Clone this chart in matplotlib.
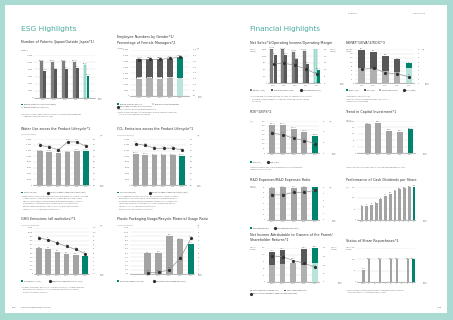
import matplotlib.pyplot as plt
import numpy as np
from matplotlib.patches import Rectangle
from matplotlib.lines import Line2D
from matplotlib.ticker import FuncFormatter

yrs5 = ['2018', '2019', '2020', '2021', '2022']
yrs6 = ['2017', '2018', '2019', '2020', '2021', '2022']

patents_outside = [10200, 10000, 10200, 10000, 9300]
patents_japan = [7600, 8000, 8200, 8500, 6100]

emp_female = [15700, 15900, 15800, 15900, 15200]
emp_male = [16400, 16600, 16500, 16700, 18800]
female_mgr = [31.2, 31.8, 31.8, 32.7, 33.6]

water_use = [11740, 11620, 11090, 11380, 11810, 11920]
water_ratio = [1.38, 1.32, 1.22, 1.50, 1.50, 1.34]

co2_emis = [10800, 10550, 10300, 10290, 10310, 10100]
co2_ratio = [1.43, 1.38, 1.28, 1.28, 1.28, 1.22]

ghg_emis = [613, 605, 534, 487, 464, 440]
ghg_ratio = [86, 82, 74, 66, 59, 49]

plastic_use = [49.5, 51.0, 91.0, 83.0, 71.5]
recycle_ratio = [0.6, 0.8, 2.0, 7.5, 17.0]

net_sales = [1508.0, 1502.2, 1381.9, 1418.8, 1551.1]
op_income = [207.7, 211.7, 175.6, 143.6, 101.1]
op_margin = [13.8, 14.1, 12.7, 10.1, 6.5]

capital_cost = [70, 66, 60, 55, 70]
eva = [87, 83, 69, 58, 24]
roic = [6.6, 7.1, 5.0, 4.4, 3.1]

eps = [311.46, 311.47, 262.69, 229.82, 186.91]
roe = [18.4, 17.3, 13.6, 11.7, 8.6]

capex = [180, 188, 139, 133, 147]

rd_exp = [57.8, 59.1, 59.0, 59.2, 61.0]
rd_ratio = [3.8, 3.8, 4.2, 4.2, 4.5]

div_years = ['2011', '12', '13', '14', '15', '16', '17', '18', '19', '20', '21', '22']
dividends = [62, 64, 70, 76, 94, 110, 120, 130, 140, 144, 148, 150]

div_paid = [63, 66, 70, 64, 70]
buybacks = [49, 52, 0, 58, 55]
net_income = [153.7, 148.2, 126.1, 110.9, 86.3]

rep_years = ['2013', '14', '15', '16', '17', '18', '19', '20', '21', '22']
repurchases = [55, 100, 0, 100, 0, 100, 100, 0, 100, 100]

# ---- colours ----
BORDER = '#a9dbd3'
TITLE = '#4aab9f'
DK_TEAL = '#00846e'
LT_TEAL = '#b7e4db'
G_LT = '#b0b0b0'
G_BAR = '#a3a3a3'
G_MD = '#7f7f7f'
G_DK = '#585858'
TXT = '#333333'

W, H = 453, 320
fig = plt.figure(figsize=(W / 100, H / 100), dpi=100, facecolor=BORDER)
fig.patches.append(Rectangle((5 / W, 1 - 313 / H), 442 / W, 308 / H, transform=fig.transFigure,
                             fc='white', ec='none', zorder=-5))


def T(x, y, s, size=1.3, color=TXT, ha='left', **kw):
    return fig.text(x / W, 1 - y / H, s, fontsize=size, color=color, ha=ha, va='center',
                    linespacing=1.0, **kw)


def quiet(ax):
    ax.set_facecolor('none')
    for sp in ax.spines.values():
        sp.set_visible(False)
    ax.tick_params(length=0, labelsize=1.3, pad=1.0, colors='#666666')


def panel(x0, x1, y0, y1, c0, dx, ymax, ystep, labels, fmt='{:,.0f}', fy=None):
    ax = fig.add_axes([x0 / W, 1 - y1 / H, (x1 - x0) / W, (y1 - y0) / H])
    quiet(ax)
    ax.set_xlim((x0 - c0) / dx, (x1 - c0) / dx)
    ax.set_ylim(0, ymax)
    ax.set_yticks(np.arange(0, ymax + ystep / 2, ystep))
    ax.yaxis.set_major_formatter(FuncFormatter(lambda v, p: fmt.format(v)))
    ax.set_xticks(range(len(labels)))
    ax.set_xticklabels(labels)
    ax.grid(axis='y', color='#dadada', lw=0.3)
    ax.set_axisbelow(True)
    ax.spines['bottom'].set_visible(True)
    ax.spines['bottom'].set_linewidth(0.4)
    ax.spines['bottom'].set_color('#808080')
    if fy is None:
        fy = (x1 + 3, y1 + 1)
    T(fy[0], fy[1], 'Fiscal\nyears', 1.2, '#777777')
    return ax


def twin(ax, ymax, ystep=None, fmt='{:.1f}'):
    r = ax.twinx()
    quiet(r)
    r.tick_params(pad=2.5)
    r.set_ylim(0, ymax)
    if ystep:
        r.set_yticks(np.arange(0, ymax + ystep / 2, ystep))
        r.yaxis.set_major_formatter(FuncFormatter(lambda v, p: fmt.format(v)))
    else:
        r.set_yticks([])
    return r


def vlab(ax, xs, vals, fmt='{:,.0f}', dy=0.5):
    for xi, v in zip(xs, vals):
        if v:
            ax.annotate(fmt.format(v), (xi, v), xytext=(0, dy), textcoords='offset points',
                        ha='center', va='bottom', fontsize=1.1, color='#555555')


def line(ax, xs, vals, fmt='{:.1f}'):
    ax.plot(xs, vals, color='#8c8c8c', lw=0.45, marker='o', ms=1.3, mfc='#303030', mec='#303030',
            zorder=5)
    vlab(ax, xs, vals, fmt, dy=1.0)


def legend(y, items):
    for x, kind, color, label in items:
        if kind == 'sq':
            fig.patches.append(Rectangle((x / W, 1 - (y + 0.9) / H), 1.8 / W, 1.8 / H,
                                         transform=fig.transFigure, fc=color, ec='none'))
        else:
            fig.lines.append(Line2D([(x + 0.9) / W], [1 - y / H], marker='o', ms=1.3, color=color,
                                    transform=fig.transFigure))
        T(x + 2.8, y, label, 1.2, '#444444')


def notes(x, y, lines, step=2.6):
    for i, s in enumerate(lines):
        T(x, y + i * step, s, 1.1, '#666666')


# ---- page furniture ----
T(21, 29, 'ESG Highlights', 5.4, TITLE)
T(250, 29, 'Financial Highlights', 5.2, TITLE)
T(348, 13, 'Chapter 4', 1.4, '#777777')
T(413, 13, 'Data Section', 1.4, '#777777')
T(12, 307, '108', 1.5, '#666666')
T(21, 307, 'Kao Integrated Report 2023', 1.5, '#666666')
T(438, 307, '109', 1.5, '#666666')

x5 = np.arange(5)
x6 = np.arange(6)

# ---- A: patents ----
T(21, 42, 'Number of Patents (Japan/Outside Japan*1)', 2.4)
T(21, 50, '(Number)', 1.2, '#666666')
ax = panel(34, 95, 55, 98, 43.3, 10.8, 12000, 2000, yrs5)
ax.bar(x5 - 0.14, patents_outside, 0.25, color=[G_MD] * 4 + [LT_TEAL],
       edgecolor=[G_MD] * 4 + [DK_TEAL], lw=0.2)
ax.bar(x5 + 0.14, patents_japan, 0.25, color=[G_DK] * 4 + [DK_TEAL])
vlab(ax, x5 - 0.14, patents_outside)
vlab(ax, x5 + 0.14, patents_japan)
legend(104.5, [(21, 'sq', DK_TEAL, 'Number of patents held (Outside Japan)')])
legend(107.5, [(21, 'sq', LT_TEAL, 'Number of patents held (Japan)')])
notes(21, 114, ['*1 Number of patents held by Kao Corporation and its consolidated subsidiaries',
                '    registered in countries other than Japan'])

# ---- B: employees ----
T(117, 37.2, 'Employee Numbers by Gender*1/', 2.4)
T(117, 42.8, 'Percentage of Female Managers*2', 2.4)
T(117, 47.8, '(Number)', 1.1, '#666666')
T(197, 47.8, '(%)', 1.1, '#666666')
ax = panel(130, 189, 50, 96, 139.3, 10.2, 40000, 5000, yrs5, fy=(198, 97))
ax.bar(x5, emp_female, 0.62, color=[G_LT] * 4 + [LT_TEAL])
ax.bar(x5, emp_male, 0.62, bottom=emp_female, color=[G_DK] * 4 + [DK_TEAL])
for xi, a, b in zip(x5, emp_female, emp_male):
    ax.text(xi, a, f'{a:,}', ha='center', va='center', fontsize=1.0, color='#444444',
            bbox=dict(fc='white', ec='none', pad=0.2))
vlab(ax, x5, [a + b for a, b in zip(emp_female, emp_male)])
r = twin(ax, 40, 5)
line(r, x5, female_mgr)
legend(104, [(117, 'sq', DK_TEAL, 'Number of male employees'), (152, 'sq', LT_TEAL, 'Number of female employees')])
legend(106.5, [(117, 'o', '#303030', 'Percentage of female managers (right)')])
notes(117, 109.5, ['*1 Kao Corporation and its consolidated subsidiaries',
                   '*2 Ratio of female managers to total managers as of December 31 of each year',
                   '    (Kao Group, excluding some subsidiaries)'])

# ---- C: water ----
T(21, 129, 'Water Use across the Product Lifecycle*1', 2.4)
T(21, 135, '(Thousands of m³)', 1.2, '#666666')
T(100, 135, '(%)', 1.2, '#666666')
ax = panel(33, 89, 139, 185, 40, 9.2, 16000, 2000, yrs6, fy=(100, 186))
ax.bar(x6, water_use, 0.62, color=[G_BAR] * 5 + [DK_TEAL])
vlab(ax, x6, water_use)
r = twin(ax, 1.6, 0.2)
line(r, x6, water_ratio, '{:.2f}')
legend(192.5, [(21, 'sq', DK_TEAL, 'Water use (left)'), (47, 'o', '#303030', 'Per unit of sales compared with 2017 (right)')])
notes(21, 196, ['*1 Water use across the entire product lifecycle is calculated for consumer products sold',
                '    in Japan, from procurement of raw materials through disposal, based on Kao\'s',
                '    own calculation method. The figures were revised due to changes in the scope',
                '    of calculation and calculation method. Water use during the use stage is',
                '    estimated based on standard usage conditions for each product category.',
                '    Figures for 2022 include some estimated values.'])

# ---- D: CO2 ----
T(117, 129, 'CO₂ Emissions across the Product Lifecycle*1', 2.4)
T(117, 135, '(Thousands of t-CO₂)', 1.2, '#666666')
T(197, 135, '(%)', 1.2, '#666666')
ax = panel(131, 186, 139, 185, 136, 9.2, 16000, 2000, yrs6, fy=(197, 186))
ax.bar(x6, co2_emis, 0.62, color=[G_BAR] * 5 + [DK_TEAL])
vlab(ax, x6, co2_emis)
r = twin(ax, 1.6, 0.2)
line(r, x6, co2_ratio, '{:.2f}')
legend(192.5, [(117, 'sq', DK_TEAL, 'CO₂ emissions (left)'), (149, 'o', '#303030', 'Per unit of sales compared with 2017 (right)')])
notes(117, 196, ['*1 CO₂ emissions across the entire lifecycle are calculated for consumer products',
                 '    sold in Japan, from procurement of raw materials through disposal. Emissions',
                 '    during the use stage are estimated based on standard usage conditions. The',
                 '    figures were revised due to changes in the scope and calculation method.',
                 '    Figures for 2022 include some estimated values.',
                 '    Emission factors are updated as appropriate.'])

# ---- E: GHG ----
T(21, 219, 'GHG Emissions (all worksites)*1', 2.4)
T(21, 225.5, '(Thousands of t-CO₂e)', 1.2, '#666666')
T(100, 225.5, '(%)', 1.2, '#666666')
ax = panel(34.3, 89, 228, 274, 39, 9.2, 1100, 100, yrs6, fy=(100, 275))
ax.bar(x6, ghg_emis, 0.62, color=[G_BAR] * 5 + [DK_TEAL])
vlab(ax, x6, ghg_emis)
r = twin(ax, 110, 10, '{:.0f}')
line(r, x6, ghg_ratio, '{:.0f}')
legend(281, [(21, 'sq', DK_TEAL, 'GHG emissions (left)'), (49, 'o', '#303030', 'Reduction compared with 2017 (right)')])
notes(21, 287, ['*1 Scope 1 and Scope 2 emissions at all Kao Group worksites, including production',
                '    sites and offices. Figures for 2022 include some estimated values and are',
                '    subject to third-party assurance.'])

# ---- F: plastic ----
T(117, 219, 'Plastic Packaging Usage/Recycle Material Usage Ratio', 2.4)
T(117, 225.5, '(Thousands of tons)', 1.2, '#666666')
T(197, 225.5, '(%)', 1.2, '#666666')
ax = panel(130, 194, 228, 274, 147.7, 10.8, 110, 10, yrs5, fmt='{:.1f}', fy=(198, 275))
ax.bar(x5, plastic_use, 0.62, color=[G_BAR] * 4 + [DK_TEAL])
vlab(ax, x5, plastic_use, '{:.1f}')
r = twin(ax, 22, 2, '{:.0f}')
line(r, x5, recycle_ratio, '{:.1f}')
legend(281, [(117, 'sq', DK_TEAL, 'Plastic packaging usage (left)'), (153, 'o', '#303030', 'Recycled material usage ratio (right)')])

# ---- G: net sales ----
T(250, 43, 'Net Sales*1/Operating Income/Operating Margin', 2.4)
T(250, 50, '(Billions\nof yen)', 1.2, '#666666')
T(330, 50, '(Billions\nof yen)', 1.2, '#666666')
ax = panel(268, 320, 49.3, 83.3, 273.5, 10.8, 1500, 300, yrs5, fy=(340, 84))
ax.bar(x5 - 0.15, net_sales, 0.28, color=[G_MD] * 4 + [LT_TEAL], edgecolor=[G_DK] * 4 + [DK_TEAL], lw=0.2)
vlab(ax, x5 - 0.15, net_sales, '{:,.1f}')
r = twin(ax, 250, 50, '{:.0f}')
r.bar(x5 + 0.15, op_income, 0.28, color=[G_DK] * 4 + [DK_TEAL])
vlab(r, x5 + 0.15, op_income, '{:.1f}')
m = twin(ax, 24)
line(m, x5, op_margin, '{:.1f}%')
legend(90, [(250, 'sq', G_MD, 'Net sales (left)'), (271, 'sq', G_DK, 'Operating income (right)'),
            (300, 'o', '#303030', 'Operating margin (%)')])
notes(250, 96.5, ['*1 As of the fiscal year ended December 31, 2020, the Company has changed its',
                  '    method for recognizing sales for certain transactions. Net sales are restated',
                  '    accordingly.'])

# ---- H: NOPAT / EVA / ROIC ----
T(346, 43, 'NOPAT*1/EVA*2/ROIC*3', 2.4)
T(346, 50, '(Billions\nof yen)', 1.2, '#666666')
T(422, 49, '(%)', 1.2, '#666666')
ax = panel(355, 414, 49.3, 83.3, 361.7, 11.8, 160, 20, yrs5, fy=(425, 84))
ax.bar(x5, capital_cost, 0.55, color=[G_LT] * 4 + [LT_TEAL])
ax.bar(x5, eva, 0.55, bottom=capital_cost, color=[G_DK] * 4 + [DK_TEAL])
vlab(ax, x5, [a + b for a, b in zip(capital_cost, eva)])
r = twin(ax, 16, 2, '{:.0f}')
line(r, x5, roic)
legend(90, [(346, 'sq', DK_TEAL, 'NOPAT (left)'), (364, 'sq', G_DK, 'EVA (left)'),
            (379, 'sq', G_LT, 'Cost of capital (left)'), (403, 'o', '#303030', 'ROIC (right)')])
notes(346, 96.5, ['*1 Net operating profit after tax',
                  '*2 EVA is a registered trademark of Stern Stewart & Co.',
                  '*3 Return on invested capital'])

# ---- I: ROE / EPS ----
T(250, 112, 'ROE*1/EPS*2', 2.4)
T(250, 121, '(Yen)', 1.2, '#666666')
T(329, 121, '(%)', 1.2, '#666666')
ax = panel(266.7, 319, 121, 153, 272.3, 10.7, 350, 50, yrs5, fy=(332, 154))
ax.bar(x5, eps, 0.55, color=[G_BAR] * 4 + [DK_TEAL])
vlab(ax, x5, eps, '{:.2f}')
r = twin(ax, 30, 10, '{:.0f}')
line(r, x5, roe)
legend(162, [(250, 'sq', DK_TEAL, 'EPS (left)'), (267, 'o', '#303030', 'ROE (right)')])
notes(250, 167, ['*1 Return on equity (net income attributable to owners of the parent)',
                 '*2 Basic earnings per share'])

# ---- J: capital investment ----
T(346, 112, 'Trend in Capital Investment*1', 2.4)
T(346, 121, '(Billions\nof yen)', 1.2, '#666666')
ax = panel(357, 415, 121, 153, 367.7, 10.7, 200, 40, yrs5, fy=(423, 154))
ax.bar(x5, capex, 0.55, color=[G_BAR] * 4 + [DK_TEAL])
vlab(ax, x5, capex, '{:.1f}')
notes(346, 167, ['*1 Excludes right-of-use assets from the fiscal year ended December 31, 2019'])

# ---- K: R&D ----
T(250, 180, 'R&D Expenses/R&D Expenses Ratio', 2.4)
T(250, 187, '(Billions\nof yen)', 1.2, '#666666')
T(329, 187, '(%)', 1.2, '#666666')
ax = panel(266.7, 319, 187, 220, 272.3, 10.7, 60, 10, yrs5, fy=(332, 221))
ax.bar(x5, rd_exp, 0.55, color=[G_BAR] * 4 + [DK_TEAL])
vlab(ax, x5, rd_exp, '{:.1f}')
r = twin(ax, 5, 1, '{:.0f}')
line(r, x5, rd_ratio)
legend(228, [(250, 'sq', DK_TEAL, 'R&D expenses (left)'), (274, 'o', '#303030', 'R&D expenses ratio (right)')])

# ---- L: dividends ----
T(346, 180, 'Performance of Cash Dividends per Share', 2.4)
T(346, 187, '(Yen)', 1.2, '#666666')
xd = np.arange(len(dividends))
ax = panel(357, 415, 187, 220, 362, 4.72, 150, 50, div_years, fy=(423, 221))
ax.bar(xd, dividends, 0.6, color=[G_BAR] * 11 + [DK_TEAL])
vlab(ax, xd, dividends)

# ---- M: net income / shareholder returns ----
T(250, 234.5, 'Net Income Attributable to Owners of the Parent/', 2.4)
T(250, 239.8, 'Shareholder Returns*1', 2.4)
T(250, 248, '(Billions\nof yen)', 1.2, '#666666')
T(331, 248, '(Billions\nof yen)', 1.2, '#666666')
ax = panel(266.7, 319, 248, 282, 271.7, 10.8, 125, 25, yrs5, fy=(338, 283))
ax.bar(x5, div_paid, 0.55, color=[G_LT] * 4 + [LT_TEAL])
ax.bar(x5, buybacks, 0.55, bottom=div_paid, color=[G_DK] * 4 + [DK_TEAL])
vlab(ax, x5, [a + b for a, b in zip(div_paid, buybacks)], '{:.1f}')
r = twin(ax, 200, 50, '{:.0f}')
line(r, x5, net_income)
legend(290.5, [(250, 'sq', G_LT, 'Total amount of dividends (left)'), (284, 'sq', G_DK, 'Share repurchases (left)')])
legend(293.5, [(250, 'o', '#303030', 'Net income attributable to owners of the parent (right)')])

# ---- N: share repurchases ----
T(346, 241, 'Status of Share Repurchases*1', 2.4)
T(346, 248, '(Billions\nof yen)', 1.2, '#666666')
xr = np.arange(len(repurchases))
ax = panel(357, 415, 248, 282, 363.5, 5.55, 150, 50, rep_years, fy=(423, 283))
ax.bar(xr, repurchases, 0.45, color=[G_BAR] * 9 + [DK_TEAL])
vlab(ax, xr, repurchases, '{:.1f}')
notes(346, 290, ['*1 Excludes repurchases of shares to meet the demands of shareholders for',
                 '    purchase of shares constituting less than one unit'])

fig.savefig('out.png', dpi=100, facecolor=BORDER)
